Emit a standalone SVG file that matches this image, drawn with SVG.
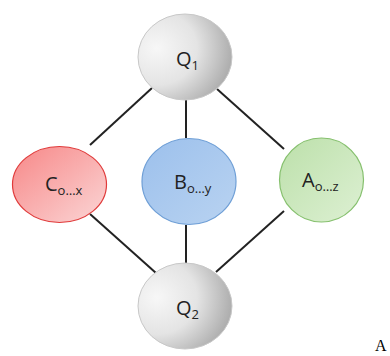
<svg xmlns="http://www.w3.org/2000/svg" width="390" height="356" viewBox="0 0 390 356">
<defs>
<radialGradient id="gGrey" cx="0.2" cy="0.4" r="0.95">
<stop offset="0" stop-color="#f7f7f7"/><stop offset="0.45" stop-color="#e4e4e4"/><stop offset="0.8" stop-color="#b4b4b4"/><stop offset="1" stop-color="#9a9a9a"/>
</radialGradient>
<linearGradient id="gRed" x1="0" y1="0" x2="1" y2="1">
<stop offset="0" stop-color="#f78888"/><stop offset="1" stop-color="#fbd6d6"/>
</linearGradient>
<linearGradient id="gBlue" x1="0" y1="0" x2="1" y2="1">
<stop offset="0" stop-color="#9cc0ec"/><stop offset="1" stop-color="#b9d3f1"/>
</linearGradient>
<linearGradient id="gGreen" x1="0" y1="0" x2="1" y2="1">
<stop offset="0" stop-color="#bce0aa"/><stop offset="1" stop-color="#ddf0d3"/>
</linearGradient>
</defs>
<style>
.lbl{font-family:"Open Sans","Liberation Sans",sans-serif;font-size:20px;fill:#222}
.sub{font-size:13px}
.conn line{stroke:#222;stroke-width:2}
</style>
<g id="connectors" class="conn">
<line x1="152" y1="88" x2="90" y2="145"/>
<line x1="186" y1="100" x2="186" y2="138"/>
<line x1="217" y1="89" x2="284" y2="149"/>
<line x1="90" y1="214" x2="156" y2="273"/>
<line x1="186" y1="225" x2="186" y2="263"/>
<line x1="284" y1="211" x2="216" y2="272"/>
</g>
<g id="Q1">
<ellipse cx="185" cy="57" rx="47" ry="43" fill="url(#gGrey)" stroke="#c8c8c8" stroke-width="1"/>
<text class="lbl" x="176" y="66">Q<tspan class="sub" dy="4">1</tspan></text>
</g>
<g id="C">
<ellipse cx="59.5" cy="184.5" rx="47" ry="38" fill="url(#gRed)" stroke="#e03a3a" stroke-width="1.2"/>
<text class="lbl" x="45" y="191">C<tspan class="sub" dy="4">o…x</tspan></text>
</g>
<g id="B">
<ellipse cx="189" cy="181.5" rx="47" ry="43" fill="url(#gBlue)" stroke="#6f9fd6" stroke-width="1.2"/>
<text class="lbl" x="174" y="189">B<tspan class="sub" dy="4">o…y</tspan></text>
</g>
<g id="A">
<ellipse cx="321.5" cy="180" rx="42" ry="42" fill="url(#gGreen)" stroke="#86c06e" stroke-width="1.2"/>
<text class="lbl" x="302" y="187">A<tspan class="sub" dy="4">o…z</tspan></text>
</g>
<g id="Q2">
<ellipse cx="185" cy="306" rx="47" ry="43" fill="url(#gGrey)" stroke="#c8c8c8" stroke-width="1"/>
<text class="lbl" x="176" y="315">Q<tspan class="sub" dy="4">2</tspan></text>
</g>
<text x="375" y="351" font-family="Liberation Serif,serif" font-size="16" fill="#000">A</text>
</svg>
